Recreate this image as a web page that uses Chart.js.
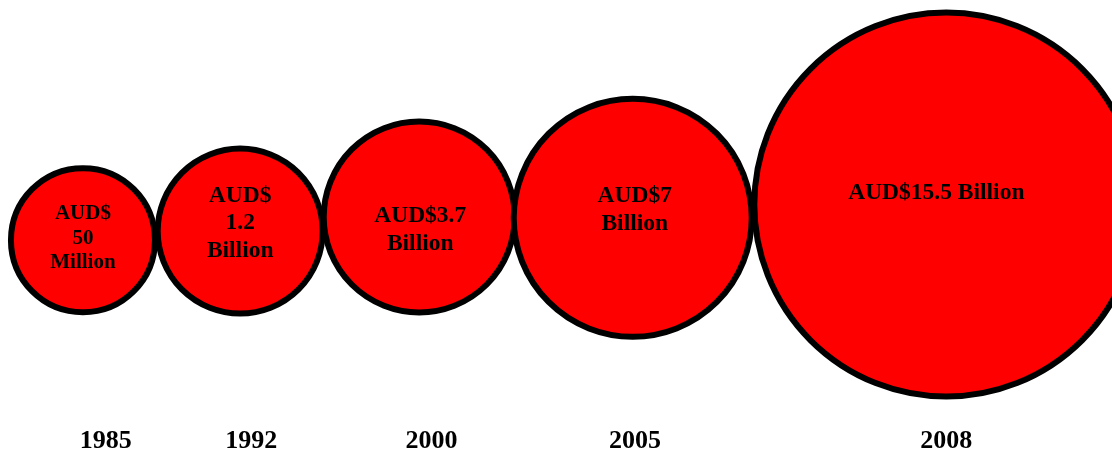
<!DOCTYPE html>
<html>
<head>
<meta charset="utf-8">
<title>Funds growth</title>
<script src="https://cdn.jsdelivr.net/npm/chart.js@4/dist/chart.umd.min.js"></script>
<style>
    html, body { margin: 0; padding: 0; background: #fff; }
    #growthChart { display: block; }
</style>
</head>
<body>
<canvas id="growthChart" width="1112" height="454"></canvas>
<script>
/* =========================
   DATA
========================= */

const years = ["1985", "1992", "2000", "2005", "2008"];

// funds in AUD billion
const amounts = [0.05, 1.2, 3.7, 7, 15.5];

const amountLabels = [
    ["AUD$", "50", "Million"],
    ["AUD$", "1.2", "Billion"],
    ["AUD$3.7", "Billion"],
    ["AUD$7", "Billion"],
    ["AUD$15.5 Billion"]
];

// bubble placement on the timeline (0-100) and height (0-100)
const bubbleX = [7.46, 21.6, 37.7, 56.9, 85.1];
const bubbleY = [44.0, 46.1, 49.4, 49.2, 52.3];

// bubble radius
const bubbleSize = [72, 82.5, 95.5, 119, 192];

// where the year labels sit on the timeline
const yearAt = [9.5, 22.6, 38.8, 57.1, 85.1];


/* =========================
   LABEL STYLE
========================= */

const labelFont = "'Liberation Serif', 'Times New Roman', serif";
const labelSize = [21, 23.5, 23.5, 23.5, 23.5];
const labelShift = [[0, -2], [0, -8], [1, 13], [2, -8], [-10, -12]];


/* =========================
   AMOUNT LABELS PLUGIN
========================= */

const amountLabelPlugin = {

    id: "amountLabels",

    afterDatasetsDraw(chart){

        const ctx = chart.ctx;
        const meta = chart.getDatasetMeta(0);

        ctx.save();
        ctx.fillStyle = "#000";
        ctx.textAlign = "center";
        ctx.textBaseline = "middle";

        meta.data.forEach((point, i) => {

            const lines = amountLabels[i];
            const size = labelSize[i];
            const lineHeight = size * 1.17;
            const cx = point.x + labelShift[i][0];
            const cy = point.y + labelShift[i][1];
            const top = cy - (lines.length - 1) * lineHeight / 2;

            ctx.font = "bold " + size + "px " + labelFont;

            lines.forEach((line, k) => {
                ctx.fillText(line, cx, top + k * lineHeight);
            });

        });

        ctx.restore();

    }

};


/* =========================
   CHART
========================= */

const points =
years.map((year, i) => ({
    x: bubbleX[i],
    y: bubbleY[i],
    r: bubbleSize[i],
    amount: amounts[i]
}));

new Chart(document.getElementById("growthChart"), {

    type: "bubble",

    data: {
        datasets: [{
            label: "Funds (AUD billion)",
            data: points,
            backgroundColor: "#ff0000",
            borderColor: "#000000",
            borderWidth: 6,
            hoverBorderWidth: 6,
            clip: false
        }]
    },

    options: {

        responsive: false,
        animation: false,
        events: [],

        layout: {
            autoPadding: false,
            padding: 0
        },

        plugins: {
            legend: { display: false },
            tooltip: { enabled: false }
        },

        scales: {

            x: {
                type: "linear",
                min: 0,
                max: 100,
                grid: { display: false, drawTicks: false },
                border: { display: false },
                afterBuildTicks: axis => {
                    axis.ticks = yearAt.map(v => ({ value: v }));
                },
                ticks: {
                    autoSkip: false,
                    maxRotation: 0,
                    padding: -3,
                    color: "#000",
                    font: {
                        family: labelFont,
                        size: 26,
                        weight: "bold"
                    },
                    callback: (value, index) => years[index]
                }
            },

            y: {
                display: false,
                min: 0,
                max: 100
            }

        }

    },

    plugins: [amountLabelPlugin]

});
</script>
</body>
</html>
